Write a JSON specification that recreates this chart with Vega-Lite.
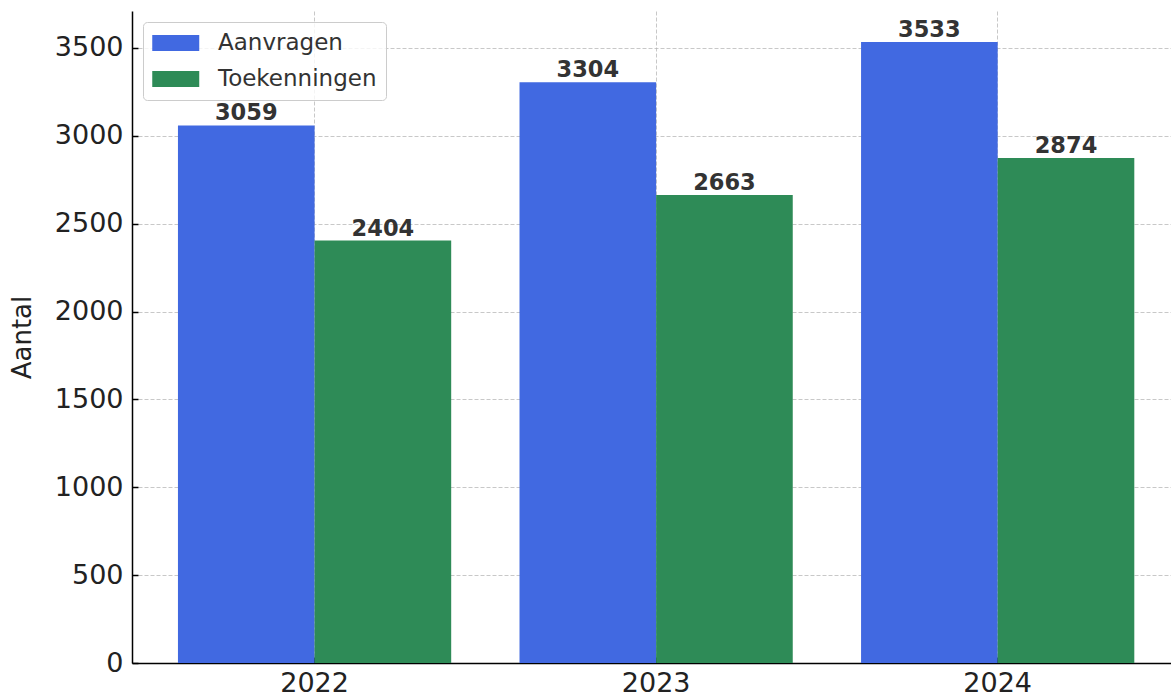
{
  "$schema": "https://vega.github.io/schema/vega-lite/v6.json",
  "autosize": {"type": "none"},
  "padding": {"left": 132, "top": 11, "right": 0, "bottom": 32},
  "width": 1039,
  "height": 652,
  "background": "white",
  "config": {
    "view": {"stroke": null},
    "font": "DejaVu Sans",
    "axis": {
      "domainColor": "#000000",
      "domainWidth": 1.5,
      "tickColor": "#000000",
      "tickWidth": 1.5,
      "tickSize": -6,
      "labelFont": "DejaVu Sans",
      "labelFontSize": 27,
      "labelColor": "#222222",
      "titleFont": "DejaVu Sans",
      "titleFontSize": 26,
      "titleFontWeight": "normal",
      "titleColor": "#222222",
      "gridColor": "#b0b0b0",
      "gridOpacity": 0.7,
      "gridDash": [4, 2],
      "gridWidth": 1,
      "zindex": 1
    }
  },
  "data": {
    "values": [
      {"jaar": "2022", "serie": "Aanvragen", "aantal": 3059},
      {"jaar": "2022", "serie": "Toekenningen", "aantal": 2404},
      {"jaar": "2023", "serie": "Aanvragen", "aantal": 3304},
      {"jaar": "2023", "serie": "Toekenningen", "aantal": 2663},
      {"jaar": "2024", "serie": "Aanvragen", "aantal": 3533},
      {"jaar": "2024", "serie": "Toekenningen", "aantal": 2874}
    ]
  },
  "encoding": {
    "x": {
      "field": "jaar",
      "type": "nominal",
      "sort": ["2022", "2023", "2024"],
      "scale": {"paddingInner": 0.2, "paddingOuter": 0.121, "align": 0.556},
      "axis": {"title": null, "labelAngle": 0, "labelPadding": 13, "bandPosition": 0.5, "grid": true}
    },
    "xOffset": {
      "field": "serie",
      "type": "nominal",
      "sort": ["Aanvragen", "Toekenningen"],
      "scale": {"paddingInner": 0, "paddingOuter": 0}
    },
    "y": {
      "field": "aantal",
      "type": "quantitative",
      "scale": {"domain": [0, 3710], "nice": false, "zero": true},
      "axis": {"title": "Aantal", "format": "d", "values": [0, 500, 1000, 1500, 2000, 2500, 3000, 3500], "labelPadding": 15, "titlePadding": 19, "grid": true}
    }
  },
  "layer": [
    {
      "mark": {"type": "bar"},
      "encoding": {
        "color": {
          "field": "serie",
          "type": "nominal",
          "scale": {"domain": ["Aanvragen", "Toekenningen"], "range": ["#4169E1", "#2E8B57"]},
          "legend": {
            "title": null,
            "orient": "none",
            "legendX": 11,
            "legendY": 11,
            "padding": 9,
            "strokeColor": "#cccccc",
            "fillColor": "rgba(255,255,255,0.8)",
            "cornerRadius": 4,
            "symbolType": "M-1,-0.68H3V0.68H-1Z",
            "symbolSize": 552,
            "symbolStrokeWidth": 0,
            "symbolOpacity": 1,
            "labelOffset": 42,
            "labelFont": "DejaVu Sans",
            "labelFontSize": 23,
            "labelColor": "#333333",
            "rowPadding": 12
          }
        }
      }
    },
    {
      "mark": {"type": "text", "dy": -5, "baseline": "alphabetic", "fontWeight": "bold", "fontSize": 22.5, "color": "#333333", "font": "DejaVu Sans"},
      "encoding": {
        "text": {"field": "aantal", "type": "quantitative", "format": "d"}
      }
    }
  ]
}
